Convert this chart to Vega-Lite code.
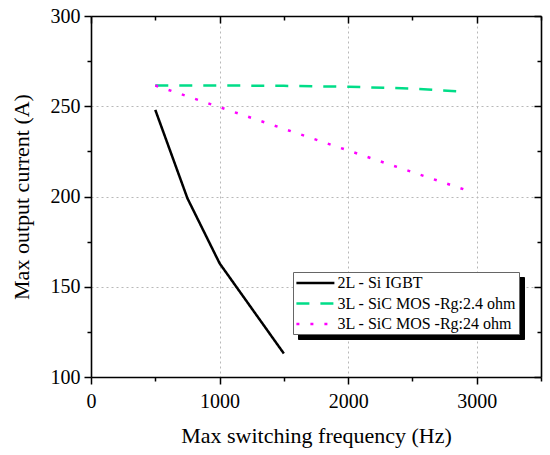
{
  "$schema": "https://vega.github.io/schema/vega-lite/v6.json",
  "width": 450,
  "height": 361,
  "autosize": "none",
  "padding": {"left": 91, "top": 16, "right": 9, "bottom": 78},
  "background": "white",
  "config": {
    "view": {"stroke": null},
    "font": "Liberation Serif",
    "axis": {
      "domainColor": "black",
      "domainWidth": 1.6,
      "tickColor": "black",
      "tickWidth": 1.5,
      "labelFont": "Liberation Serif",
      "labelFontSize": 20,
      "labelColor": "black",
      "titleFont": "Liberation Serif",
      "titleFontSize": 22,
      "titleFontWeight": "normal",
      "titleColor": "black",
      "gridColor": "#b8b8b8",
      "gridDash": [2, 3],
      "gridWidth": 1
    },
    "legend": {
      "title": null,
      "orient": "none",
      "padding": 2,
      "rowPadding": 3.5,
      "symbolType": "M-2.5,0H2.5",
      "symbolSize": 231,
      "symbolOffset": 11.4,
      "symbolStrokeWidth": 2.5,
      "labelFont": "Liberation Serif",
      "labelFontSize": 16,
      "labelColor": "black",
      "labelOffset": 13,
      "labelLimit": 300
    }
  },
  "data": {
    "values": [
      {"f": 500, "I": 248, "series": "2L - Si IGBT", "shadow": "s1"},
      {"f": 750, "I": 199, "series": "2L - Si IGBT", "shadow": "s1"},
      {"f": 1000, "I": 163, "series": "2L - Si IGBT", "shadow": "s1"},
      {"f": 1500, "I": 113, "series": "2L - Si IGBT", "shadow": "s1"},
      {"f": 500, "I": 261.5, "series": "3L - SiC MOS -Rg:2.4 ohm", "shadow": "s2"},
      {"f": 1000, "I": 261.5, "series": "3L - SiC MOS -Rg:2.4 ohm", "shadow": "s2"},
      {"f": 1500, "I": 261.3, "series": "3L - SiC MOS -Rg:2.4 ohm", "shadow": "s2"},
      {"f": 2000, "I": 260.8, "series": "3L - SiC MOS -Rg:2.4 ohm", "shadow": "s2"},
      {"f": 2500, "I": 259.8, "series": "3L - SiC MOS -Rg:2.4 ohm", "shadow": "s2"},
      {"f": 2920, "I": 258, "series": "3L - SiC MOS -Rg:2.4 ohm", "shadow": "s2"},
      {"f": 500, "I": 261.5, "series": "3L - SiC MOS -Rg:24 ohm", "shadow": "s3"},
      {"f": 1000, "I": 249.5, "series": "3L - SiC MOS -Rg:24 ohm", "shadow": "s3"},
      {"f": 1500, "I": 237.5, "series": "3L - SiC MOS -Rg:24 ohm", "shadow": "s3"},
      {"f": 2000, "I": 225.5, "series": "3L - SiC MOS -Rg:24 ohm", "shadow": "s3"},
      {"f": 2500, "I": 213.5, "series": "3L - SiC MOS -Rg:24 ohm", "shadow": "s3"},
      {"f": 2920, "I": 203.5, "series": "3L - SiC MOS -Rg:24 ohm", "shadow": "s3"}
    ]
  },
  "layer": [
    {
      "mark": {"type": "line", "strokeCap": "butt", "clip": true},
      "encoding": {
        "x": {
          "field": "f",
          "type": "quantitative",
          "title": "Max switching frequency (Hz)",
          "scale": {"domain": [0, 3500], "nice": false},
          "axis": {
            "orient": "bottom",
            "values": [0, 500, 1000, 1500, 2000, 2500, 3000, 3500],
            "labelExpr": "datum.value % 1000 === 0 ? datum.label : ''",
            "format": "d",
            "tickSize": {"condition": {"test": "datum.value % 1000 === 0", "value": 7}, "value": 4},
            "gridOpacity": {"condition": {"test": "datum.value % 1000 === 0 && datum.value > 0", "value": 1}, "value": 0},
            "grid": true,
            "labelPadding": 7,
            "titlePadding": 14,
            "labelFlush": false
          }
        },
        "y": {
          "field": "I",
          "type": "quantitative",
          "title": "Max output current (A)",
          "scale": {"domain": [100, 300], "nice": false},
          "axis": {
            "orient": "left",
            "values": [100, 125, 150, 175, 200, 225, 250, 275, 300],
            "labelExpr": "datum.value % 50 === 0 ? datum.label : ''",
            "tickSize": {"condition": {"test": "datum.value % 50 === 0", "value": 7}, "value": 4},
            "gridOpacity": {"condition": {"test": "datum.value % 50 === 0 && datum.value > 100 && datum.value < 300", "value": 1}, "value": 0},
            "grid": true,
            "labelPadding": 4,
            "titlePadding": 17,
            "labelFlush": false
          }
        },
        "detail": {"field": "series"},
        "stroke": {
          "field": "series",
          "type": "nominal",
          "scale": {
            "domain": ["2L - Si IGBT", "3L - SiC MOS -Rg:2.4 ohm", "3L - SiC MOS -Rg:24 ohm"],
            "range": ["black", "#00dd88", "#ff00ff"]
          },
          "legend": {
            "legendX": 202,
            "legendY": 256,
            "zindex": 2,
            "fillColor": "white",
            "strokeColor": "#666666"
          }
        },
        "strokeDash": {
          "field": "series",
          "type": "nominal",
          "scale": {
            "domain": ["2L - Si IGBT", "3L - SiC MOS -Rg:2.4 ohm", "3L - SiC MOS -Rg:24 ohm"],
            "range": [[1, 0], [13, 11], [3, 11]]
          },
          "legend": {
            "legendX": 202,
            "legendY": 256
          }
        },
        "strokeWidth": {
          "field": "shadow",
          "type": "nominal",
          "scale": {
            "domain": ["s1", "s2", "s3"],
            "range": [2.5, 2.5, 3]
          },
          "legend": {
            "legendX": 207,
            "legendY": 261,
            "zindex": 1,
            "fillColor": "black",
            "strokeColor": "black",
            "symbolStrokeColor": "black",
            "labelExpr": "datum.label === 's1' ? '2L - Si IGBT' : datum.label === 's2' ? '3L - SiC MOS -Rg:2.4 ohm' : '3L - SiC MOS -Rg:24 ohm'"
          }
        }
      }
    },
    {
      "mark": {"type": "line", "strokeOpacity": 0},
      "encoding": {
        "x": {
          "field": "f",
          "type": "quantitative",
          "scale": {"domain": [0, 3500], "nice": false},
          "axis": {
            "orient": "top",
            "title": null,
            "values": [0, 500, 1000, 1500, 2000, 2500, 3000, 3500],
            "labels": false,
            "tickSize": {"condition": {"test": "datum.value % 1000 === 0", "value": -7}, "value": -4},
            "grid": false
          }
        },
        "y": {
          "field": "I",
          "type": "quantitative",
          "scale": {"domain": [100, 300], "nice": false},
          "axis": {
            "orient": "right",
            "title": null,
            "values": [100, 125, 150, 175, 200, 225, 250, 275, 300],
            "labels": false,
            "tickSize": {"condition": {"test": "datum.value % 50 === 0", "value": -7}, "value": -4},
            "grid": false
          }
        },
        "detail": {"field": "series"}
      }
    }
  ],
  "resolve": {"axis": {"x": "independent", "y": "independent"}}
}
